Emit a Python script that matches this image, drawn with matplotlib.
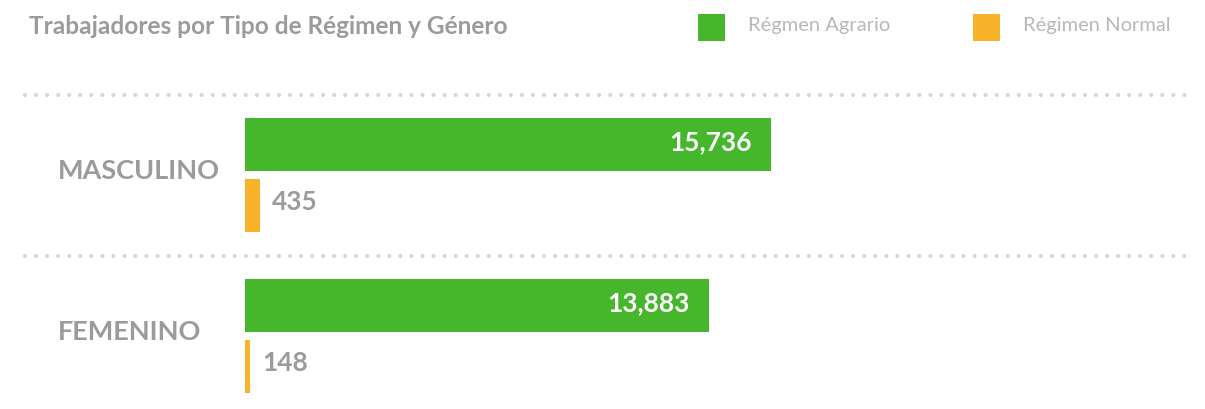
import matplotlib
matplotlib.use("Agg")
import matplotlib.pyplot as plt
from matplotlib.patches import Rectangle
from matplotlib.transforms import blended_transform_factory

# ---- data ----
categories = ["MASCULINO", "FEMENINO"]
series_names = ["Régmen Agrario", "Régimen Normal"]
agrario = [15736, 13883]
normal = [435, 148]
title = "Trabajadores por Tipo de Régimen y Género"

GREEN = "#46B72C"
ORANGE = "#F9B32B"
GRAY = "#9b9b9b"
LEG_GRAY = "#b8b8b8"
DOT = "#d6d6d6"

plt.rcParams['font.family'] = ['Lato', 'DejaVu Sans']

W, H = 1205, 410
fig = plt.figure(figsize=(W / 100, H / 100), dpi=100)
fig.patch.set_facecolor("white")

ax = fig.add_axes([245 / W, 0, 950 / W, (H - 95.5) / H])
ax.set_xlim(0, 28400)
ax.set_ylim(1.453, -0.5)
ax.axis("off")

off = 0.19
bh = 0.33
ys = list(range(len(categories)))
ax.barh([y - off for y in ys], agrario, height=bh, color=GREEN, left=0)
ax.barh([y + off for y in ys], normal, height=bh, color=ORANGE, left=0)

for y, v in zip(ys, agrario):
    ax.annotate(f"{v:,}", xy=(v, y - off), xytext=(-14, 4), textcoords="offset points",
                ha="right", va="center_baseline", color="white", fontsize=19, fontweight="bold")
for y, v in zip(ys, normal):
    ax.annotate(f"{v:,}", xy=(v, y + off), xytext=(9, 4.5), textcoords="offset points",
                ha="left", va="center_baseline", color=GRAY, fontsize=19, fontweight="bold")

tr = blended_transform_factory(fig.transFigure, ax.transData)
for y in [-0.5, 0.5]:
    ax.plot([25 / W, 1195 / W], [y, y], transform=tr, clip_on=False, color=DOT,
            lw=3.0, dashes=(0.01, 2.64), dash_capstyle="round")

for y, c in zip(ys, categories):
    fig.text(58 / W, y - 0.034, c, transform=tr, ha="left", va="center",
             fontsize=19.5, fontweight="bold", color=GRAY)

fig.text(29 / W, 1 - 27 / H, title, ha="left", va="center", fontsize=17.6,
         fontweight="bold", color=GRAY)

# legend
leg_x = [698, 973]
for lx, name, col in zip(leg_x, series_names, [GREEN, ORANGE]):
    fig.patches.append(Rectangle((lx / W, 1 - 42 / H), 27 / W, 27 / H,
                                 transform=fig.transFigure, color=col, lw=0))
    fig.text((lx + 50) / W, 1 - 26 / H, name, ha="left", va="center", fontsize=14.5,
             fontweight="normal", color=LEG_GRAY)

fig.savefig("out.png", dpi=100, facecolor="white")
